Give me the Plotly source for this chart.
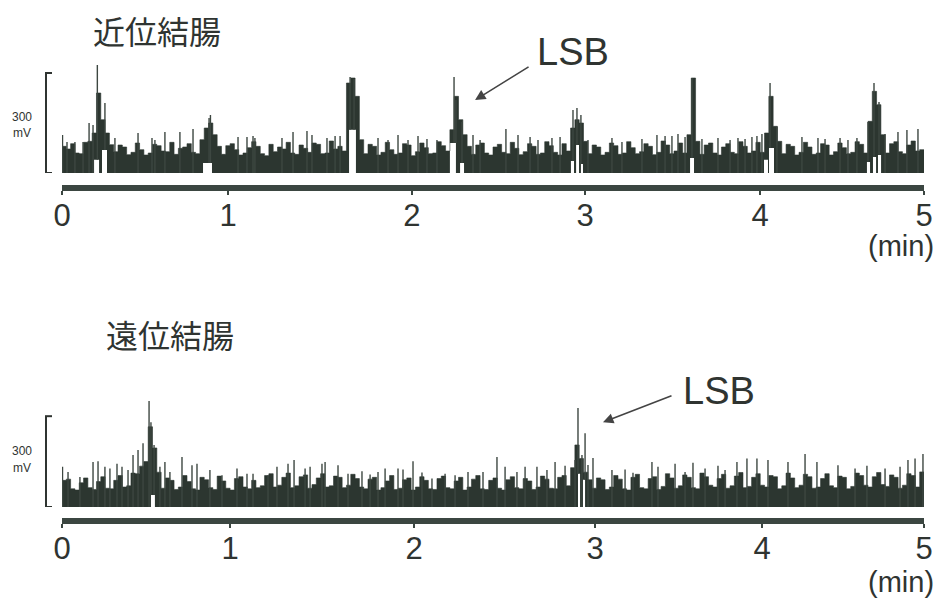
import numpy as np
import plotly.graph_objects as go

# ------------------------------------------------------------------ data
W, H = 942, 599
tick_text = ["0", "1", "2", "3", "4", "5"]
top_tick_min = [0, 0.963, 2.030, 3.034, 4.049, 5]
bottom_tick_min = [0, 0.975, 2.042, 3.092, 4.061, 5]
sample_step_min = 0.025

# 近位結腸 (proximal colon): dense activity envelope, mV, one value per 0.025 min
prox_body_mV = [
    80, 72, 88, 60, 58, 92,
    95, 120, 240, 160, 120, 85,
    64, 84, 78, 55, 62, 90, 70, 54, 60, 86, 82, 66, 64, 92, 56, 74, 78, 88, 62, 58,
    100, 135, 150, 115, 80,
    56, 82, 88, 70, 54, 60, 76, 94, 80, 58, 52, 86, 64, 78, 72, 92, 60, 56, 84, 74,
    62, 90, 86, 58, 60, 96, 72, 80, 66,
    270, 285, 230, 100,
    58, 86, 80, 54, 62, 92, 70, 56, 60, 88, 84, 52, 64, 90, 76, 58, 60, 94, 82, 66,
    130, 230, 160, 115, 80,
    56, 84, 90, 60, 54, 78, 86, 62, 58, 92, 74, 55, 64, 88, 80, 56, 60, 94, 82, 62,
    54, 88, 66,
    135, 160, 150, 95,
    58, 84, 78, 54, 62, 90, 82, 56, 60, 94, 76, 58, 64, 88, 80, 55, 62, 96, 84, 58,
    66, 90, 60,
    115, 285, 95,
    56, 84, 90, 60, 54, 78, 88, 62, 58, 94, 80, 60, 66, 92, 62,
    120, 230, 140, 95,
    58, 86, 80, 54, 62, 92, 78, 56, 60, 88, 84, 54, 64, 90, 76, 58, 62, 94, 86, 60,
    155, 245, 205, 115,
    60, 88, 94, 64, 58, 84, 96, 66, 70,
]
# raised minimum of the signal during bursts (start min, end min, level mV)
prox_lift_start = [0.186, 0.232, 0.818, 1.665, 2.250, 2.309, 2.952, 2.982, 3.010, 3.643, 4.072, 4.101, 4.669, 4.704, 4.733]
prox_lift_end = [0.215, 0.261, 0.870, 1.705, 2.285, 2.332, 2.970, 2.999, 3.022, 3.666, 4.095, 4.130, 4.687, 4.722, 4.751]
prox_lift_mV = [40, 69, 30, 130, 90, 30, 36, 84, 27, 45, 40, 75, 33, 48, 54]
# individual spikes (time min, peak mV)
prox_spike_t = [
    0.003, 0.029, 0.075, 0.122, 0.157, 0.180, 0.205, 0.249, 0.307, 0.441, 0.522, 0.539,
    0.597, 0.684, 0.760, 0.853, 0.861, 1.021, 1.073, 1.108, 1.119, 1.276, 1.340, 1.421,
    1.450, 1.537, 1.584, 1.613, 1.671, 1.694, 1.833, 1.891, 1.949, 2.007, 2.065, 2.117,
    2.175, 2.274, 2.285, 2.320, 2.384, 2.425, 2.575, 2.645, 2.715, 2.761, 2.842, 2.889,
    2.964, 2.987, 3.010, 3.051, 3.190, 3.248, 3.364, 3.451, 3.498, 3.538, 3.573, 3.614,
    3.654, 3.712, 3.805, 3.875, 3.921, 3.962, 4.002, 4.031, 4.060, 4.107, 4.147, 4.292,
    4.385, 4.426, 4.513, 4.559, 4.611, 4.675, 4.710, 4.739, 4.774, 4.849, 4.901, 4.965,
]
prox_spike_mV = [
    114, 93, 93, 93, 150, 144, 324, 210, 105, 120, 105, 99,
    123, 123, 132, 165, 174, 108, 108, 111, 105, 105, 123, 126,
    114, 105, 111, 111, 288, 282, 105, 99, 114, 99, 111, 102,
    99, 288, 219, 153, 114, 99, 132, 114, 108, 99, 105, 108,
    189, 195, 174, 99, 105, 93, 102, 114, 111, 111, 117, 108,
    285, 102, 105, 99, 105, 102, 108, 111, 117, 270, 138, 108,
    105, 102, 105, 99, 105, 153, 270, 213, 117, 123, 129, 132,
]

# 遠位結腸 (distal colon)
dist_body_mV = [
    88, 92, 60, 56, 80, 96, 64, 58, 84, 100, 62, 60, 88, 104, 66, 70, 112,
    110, 135, 150, 265, 195, 115,
    62, 96, 88, 58, 66, 104, 84, 60, 56, 98, 90, 64, 58, 102, 86, 62, 56, 94, 100, 66,
    60, 88, 64,
    70, 104, 110, 66, 72, 98, 112, 64, 70, 100, 106, 62, 74, 96, 110, 66, 70, 102, 98, 64,
    72, 108, 94, 66,
    60, 92, 98, 56, 64, 86, 104, 58, 62, 90, 96, 56, 66, 100, 88, 60, 58, 94, 102, 64,
    60, 86, 98, 56, 66, 92, 104, 60, 58, 88, 96, 62, 56, 90, 100, 64, 60, 94, 86, 58,
    66, 102, 92, 62, 60, 98, 104, 70,
    130, 205, 160, 115, 90,
    62, 96, 90, 58, 66, 104, 92, 60, 56, 98, 108, 64, 60, 94, 100, 58, 68, 110, 96, 62,
    70, 106, 98, 64, 60, 112, 100, 72, 66, 94, 108, 62, 70, 102, 114, 64, 68, 98, 110, 72,
    66, 104, 100, 60, 70, 112, 96, 64, 72, 108, 100, 62, 66, 94, 110, 70, 64, 102, 98, 60,
    68, 112, 104, 72, 66, 100, 114, 74, 68, 106, 98, 62, 72, 110, 104, 66, 116,
]
dist_lift_start = [0.516, 2.993, 3.022]
dist_lift_end = [0.539, 3.005, 3.034]
dist_lift_mV = [40, 110, 90]
dist_spike_t = [
    0.003, 0.035, 0.104, 0.180, 0.209, 0.249, 0.278, 0.319, 0.348, 0.383, 0.412, 0.441,
    0.470, 0.505, 0.516, 0.534, 0.568, 0.597, 0.626, 0.696, 0.754, 0.783, 0.858, 0.928,
    1.015, 1.073, 1.108, 1.195, 1.247, 1.311, 1.346, 1.410, 1.439, 1.508, 1.526, 1.601,
    1.659, 1.740, 1.787, 1.833, 1.874, 1.949, 1.978, 2.036, 2.088, 2.146, 2.222, 2.280,
    2.355, 2.442, 2.523, 2.570, 2.639, 2.686, 2.755, 2.813, 2.860, 2.918, 2.976, 2.993,
    3.016, 3.034, 3.051, 3.080, 3.190, 3.266, 3.312, 3.422, 3.457, 3.556, 3.614, 3.660,
    3.730, 3.805, 3.846, 3.915, 3.973, 4.031, 4.095, 4.211, 4.310, 4.379, 4.501, 4.600,
    4.669, 4.774, 4.861, 4.907, 4.948, 4.994,
]
dist_spike_mV = [
    133, 116, 99, 149, 151, 133, 127, 143, 133, 122, 172, 188,
    211, 350, 280, 205, 133, 149, 116, 165, 138, 143, 122, 105,
    127, 110, 110, 105, 133, 143, 155, 127, 133, 143, 149, 138,
    110, 118, 107, 116, 127, 127, 124, 151, 114, 94, 110, 105,
    116, 116, 165, 133, 116, 133, 133, 122, 149, 136, 155, 327,
    172, 244, 139, 162, 122, 124, 113, 149, 133, 143, 116, 146,
    127, 136, 122, 149, 160, 160, 155, 149, 175, 149, 138, 127,
    136, 127, 133, 155, 160, 175,
]

# ------------------------------------------------------------------ style
TRACE = "#2c3630"
SPIKE = "#3d4741"
TEXT = "#2f3431"
AXIS = "#3b4641"
FONT = "Liberation Sans, Arial, sans-serif"
CJK = "Noto Sans CJK JP, sans-serif"
PAGE_OFFSET = 8  # the page body margin shifts the figure by this many pixels


def px(x):
    return (x - PAGE_OFFSET) / W


def py(y):
    return 1 - (y - PAGE_OFFSET) / H


def floor_at(t, starts, ends, levels):
    out = np.zeros_like(np.asarray(t, dtype=float))
    for s, e, v in zip(starts, ends, levels):
        out[(t >= s) & (t <= e)] = v
    return out


def floor_path(starts, ends, levels):
    xs, ys = [0.0], [0.0]
    for s, e, v in sorted(zip(starts, ends, levels)):
        xs += [s, s, e, e]
        ys += [0, v, v, 0]
    xs.append(5.0)
    ys.append(0.0)
    return xs, ys


def add_record(fig, body, starts, ends, levels, sp_t, sp_v, xa, ya):
    n = len(body)
    bt = list(np.arange(n) * sample_step_min) + [n * sample_step_min]
    bv = list(body) + [body[-1]]
    fx, fy = floor_path(starts, ends, levels)
    fig.add_trace(go.Scatter(x=fx, y=fy, mode="lines", line=dict(width=0, color=TRACE),
                             xaxis=xa, yaxis=ya, hoverinfo="skip", showlegend=False))
    fig.add_trace(go.Scatter(x=bt, y=bv, mode="lines", line=dict(width=0.6, color=TRACE, shape="hv"),
                             fill="tonexty", fillcolor=TRACE,
                             xaxis=xa, yaxis=ya, hoverinfo="skip", showlegend=False))
    st = np.asarray(sp_t, dtype=float)
    base = floor_at(st, starts, ends, levels)
    xs, ys = [], []
    for t, b, v in zip(st, base, sp_v):
        xs += [t, t, None]
        ys += [b, v, None]
    fig.add_trace(go.Scatter(x=xs, y=ys, mode="lines", line=dict(width=1.4, color=SPIKE),
                             xaxis=xa, yaxis=ya, hoverinfo="skip", showlegend=False))


fig = go.Figure()
add_record(fig, prox_body_mV, prox_lift_start, prox_lift_end, prox_lift_mV,
           prox_spike_t, prox_spike_mV, "x", "y")
add_record(fig, dist_body_mV, dist_lift_start, dist_lift_end, dist_lift_mV,
           dist_spike_t, dist_spike_mV, "x2", "y2")

xcommon = dict(range=[0, 5], domain=[px(62), px(924)], anchor="free", showgrid=False,
               zeroline=False, showline=True, linewidth=6, linecolor=AXIS, mirror=False,
               ticks="outside", ticklen=4, tickwidth=2, tickcolor=AXIS, ticklabelstandoff=-6,
               tickfont=dict(family=FONT, size=31, color=TEXT), fixedrange=True)
fig.update_layout(
    width=W, height=H, margin=dict(l=0, r=0, t=0, b=0, autoexpand=False),
    paper_bgcolor="white", plot_bgcolor="rgba(0,0,0,0)",
    xaxis=dict(**xcommon, position=py(188), tickvals=top_tick_min, ticktext=tick_text),
    xaxis2=dict(**xcommon, position=py(521), tickvals=bottom_tick_min, ticktext=tick_text),
    yaxis=dict(range=[0, 330], domain=[py(173), py(63)], visible=False, anchor="x"),
    yaxis2=dict(range=[0, 370], domain=[py(507), py(395)], visible=False, anchor="x2"),
    showlegend=False,
)

# scale bars (300 mV) drawn in each panel's own mV scale
for yref in ("y", "y2"):
    fig.add_shape(type="line", xref="paper", yref=yref, x0=px(46), x1=px(46), y0=0, y1=300,
                  line=dict(color=TEXT, width=2))
    for yv in (0, 300):
        fig.add_shape(type="line", xref="paper", yref=yref, x0=px(45), x1=px(52), y0=yv, y1=yv,
                      line=dict(color=TEXT, width=2))

ann = []
for cx, cy, txt in [(22, 117, "300"), (22, 133, "mV"), (22, 451, "300"), (22, 468, "mV")]:
    ann.append(dict(x=px(cx), y=py(cy), xref="paper", yref="paper", text=txt, showarrow=False,
                    font=dict(family=FONT, size=12, color=TEXT), xanchor="center", yanchor="middle"))
for cx, cy, txt in [(157, 30, "近位結腸"), (170, 334, "遠位結腸")]:
    ann.append(dict(x=px(cx), y=py(cy), xref="paper", yref="paper", text=txt, showarrow=False,
                    font=dict(family=CJK, size=32, color=TEXT), xanchor="center", yanchor="middle",
                    borderpad=0))
for cx, cy in [(901, 246), (901, 582)]:
    ann.append(dict(x=px(cx), y=py(cy), xref="paper", yref="paper", text="(min)", showarrow=False,
                    font=dict(family=FONT, size=29, color=TEXT), xanchor="center", yanchor="middle",
                    borderpad=0))
for cx, cy in [(573, 52), (719, 391)]:
    ann.append(dict(x=px(cx), y=py(cy), xref="paper", yref="paper", text="LSB", showarrow=False,
                    font=dict(family=FONT, size=38, color=TEXT), xanchor="center", yanchor="middle"))
ann.append(dict(x=2.396, y=219, xref="x", yref="y", ax=55, ay=-34, text="", showarrow=True,
                arrowhead=2, arrowsize=1.3, arrowwidth=1.6, arrowcolor="#444"))
ann.append(dict(x=3.138, y=280, xref="x2", yref="y2", ax=70, ay=-27, text="", showarrow=True,
                arrowhead=2, arrowsize=1.3, arrowwidth=1.6, arrowcolor="#444"))
fig.update_layout(annotations=ann)

fig.write_html("out.html")
